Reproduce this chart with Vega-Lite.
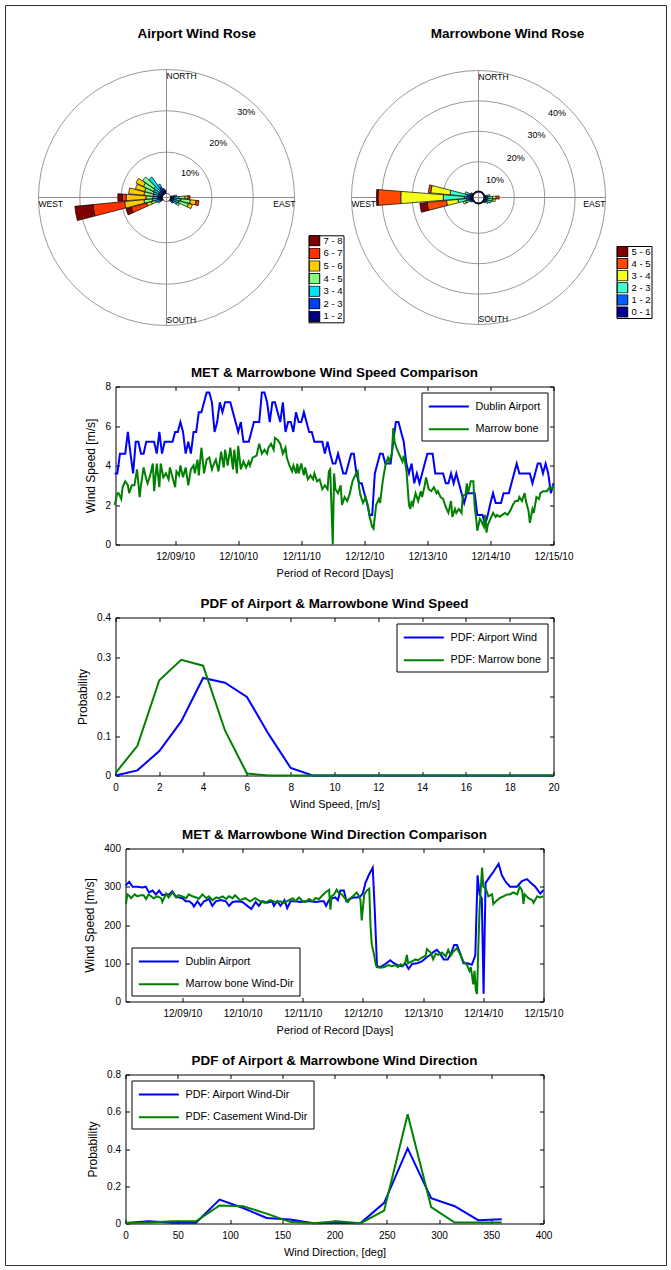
{
"$schema": "https://vega.github.io/schema/vega-lite/v6.json",
"padding": {"left": 4.5, "top": 4.5, "right": 4.5, "bottom": 4.5},
"background": "white",
"config": {
  "font": "Liberation Sans",
  "view": {"stroke": "black", "strokeWidth": 1},
  "axis": {"grid": false, "domain": false, "labelFontSize": 10, "titleFontWeight": "normal", "labelColor": "black", "titleColor": "black", "tickColor": "black", "tickSize": -4, "labelFlush": false, "labelOverlap": false},
  "axisX": {"labelPadding": 11, "titlePadding": 6, "titleFontSize": 11},
  "axisY": {"labelPadding": 9, "titlePadding": 7, "titleFontSize": 12},
  "title": {"fontSize": 13.4, "fontWeight": "bold", "color": "black", "offset": 2},
  "legend": {"title": null, "strokeColor": "black", "fillColor": "white", "padding": 6, "symbolType": "M-1,0H5", "symbolSize": 110, "symbolStrokeWidth": 2, "labelFontSize": 10.8, "rowPadding": 9.7, "labelOffset": 32, "cornerRadius": 0, "labelColor": "black", "offset": 6}
},
"datasets": {
  "spdA": [{"h":1,"v":3.6},{"h":2,"v":3.6},{"h":3,"v":4.6},{"h":4,"v":4.6},{"h":5,"v":4.6},{"h":6,"v":5.7},{"h":7,"v":4.6},{"h":8,"v":3.6},{"h":9,"v":5.2},{"h":10,"v":5.2},{"h":11,"v":4.6},{"h":12,"v":4.6},{"h":13,"v":5.2},{"h":14,"v":5.2},{"h":15,"v":5.2},{"h":16,"v":5.2},{"h":17,"v":4.6},{"h":18,"v":5.7},{"h":19,"v":4.6},{"h":20,"v":5.2},{"h":21,"v":5.2},{"h":22,"v":5.2},{"h":23,"v":5.2},{"h":24,"v":5.7},{"h":25,"v":5.7},{"h":26,"v":6.2},{"h":27,"v":5.7},{"h":28,"v":4.6},{"h":29,"v":5.2},{"h":30,"v":4.6},{"h":31,"v":5.7},{"h":32,"v":5.7},{"h":33,"v":6.7},{"h":34,"v":6.7},{"h":35,"v":7.2},{"h":36,"v":7.7},{"h":37,"v":7.7},{"h":38,"v":7.2},{"h":39,"v":5.7},{"h":40,"v":6.2},{"h":41,"v":7.2},{"h":42,"v":6.7},{"h":43,"v":7.2},{"h":44,"v":7.2},{"h":45,"v":7.2},{"h":46,"v":6.7},{"h":47,"v":6.2},{"h":48,"v":5.7},{"h":49,"v":6.2},{"h":50,"v":5.2},{"h":51,"v":5.2},{"h":52,"v":5.2},{"h":53,"v":5.7},{"h":54,"v":6.2},{"h":55,"v":6.2},{"h":56,"v":6.2},{"h":57,"v":7.7},{"h":58,"v":7.7},{"h":59,"v":7.2},{"h":60,"v":6.2},{"h":61,"v":7.2},{"h":62,"v":7.2},{"h":63,"v":6.7},{"h":64,"v":6.2},{"h":65,"v":7.2},{"h":66,"v":5.7},{"h":67,"v":6.2},{"h":68,"v":6.2},{"h":69,"v":5.7},{"h":70,"v":6.7},{"h":71,"v":6.2},{"h":72,"v":6.2},{"h":73,"v":6.7},{"h":74,"v":6.2},{"h":75,"v":5.7},{"h":76,"v":5.7},{"h":77,"v":5.2},{"h":78,"v":5.2},{"h":79,"v":5.2},{"h":80,"v":5.2},{"h":81,"v":4.6},{"h":82,"v":5.2},{"h":83,"v":4.6},{"h":84,"v":4.1},{"h":85,"v":4.1},{"h":86,"v":4.6},{"h":87,"v":4.1},{"h":88,"v":3.6},{"h":89,"v":3.6},{"h":90,"v":4.1},{"h":91,"v":4.6},{"h":92,"v":4.6},{"h":93,"v":3.6},{"h":94,"v":3.1},{"h":95,"v":3.1},{"h":96,"v":2.6},{"h":97,"v":2.1},{"h":98,"v":1.5},{"h":99,"v":1.5},{"h":100,"v":3.6},{"h":101,"v":4.1},{"h":102,"v":4.6},{"h":103,"v":4.6},{"h":104,"v":4.1},{"h":105,"v":4.1},{"h":106,"v":4.1},{"h":107,"v":5.2},{"h":108,"v":6.2},{"h":109,"v":6.2},{"h":110,"v":5.7},{"h":111,"v":5.2},{"h":112,"v":4.1},{"h":113,"v":3.6},{"h":114,"v":4.1},{"h":115,"v":3.1},{"h":116,"v":3.6},{"h":117,"v":3.1},{"h":118,"v":3.6},{"h":119,"v":4.1},{"h":120,"v":4.6},{"h":121,"v":4.6},{"h":122,"v":4.6},{"h":123,"v":3.6},{"h":124,"v":3.6},{"h":125,"v":3.6},{"h":126,"v":3.6},{"h":127,"v":3.1},{"h":128,"v":3.1},{"h":129,"v":3.6},{"h":130,"v":3.1},{"h":131,"v":3.6},{"h":132,"v":3.1},{"h":133,"v":2.6},{"h":134,"v":2.1},{"h":135,"v":2.6},{"h":136,"v":2.6},{"h":137,"v":2.6},{"h":138,"v":2.6},{"h":139,"v":1.5},{"h":140,"v":1.5},{"h":141,"v":1.5},{"h":142,"v":1.0},{"h":143,"v":1.5},{"h":144,"v":2.1},{"h":145,"v":2.6},{"h":146,"v":2.1},{"h":147,"v":2.1},{"h":148,"v":2.1},{"h":149,"v":2.6},{"h":150,"v":2.6},{"h":151,"v":2.6},{"h":152,"v":3.1},{"h":153,"v":3.6},{"h":154,"v":4.1},{"h":155,"v":3.6},{"h":156,"v":3.6},{"h":157,"v":3.6},{"h":158,"v":3.6},{"h":159,"v":3.6},{"h":160,"v":3.1},{"h":161,"v":3.6},{"h":162,"v":4.1},{"h":163,"v":4.1},{"h":164,"v":3.6},{"h":165,"v":4.1},{"h":166,"v":3.6},{"h":167,"v":2.6},{"h":168,"v":3.1}],
  "spdM": [{"h":1,"v":2.0},{"h":2,"v":2.6},{"h":2.5,"v":2.6},{"h":3.5,"v":2.3},{"h":4,"v":2.9},{"h":5,"v":3.2},{"h":6,"v":3.0},{"h":6.5,"v":2.6},{"h":7.5,"v":3.0},{"h":8.5,"v":3.0},{"h":9.5,"v":3.8},{"h":10.5,"v":2.4},{"h":11,"v":3.0},{"h":12,"v":3.9},{"h":13,"v":3.3},{"h":13.5,"v":3.1},{"h":14.5,"v":3.5},{"h":15.5,"v":4.1},{"h":16,"v":2.7},{"h":17,"v":4.1},{"h":18,"v":2.9},{"h":18.5,"v":4.1},{"h":19.5,"v":3.4},{"h":20.5,"v":3.6},{"h":21.5,"v":3.3},{"h":22,"v":3.9},{"h":23,"v":3.4},{"h":24,"v":2.9},{"h":24.5,"v":3.7},{"h":25.5,"v":3.5},{"h":26,"v":4.0},{"h":27,"v":3.4},{"h":28,"v":3.9},{"h":29,"v":3.0},{"h":30,"v":3.8},{"h":31,"v":4.0},{"h":31.5,"v":3.6},{"h":32.5,"v":4.3},{"h":33,"v":3.5},{"h":34,"v":4.9},{"h":35,"v":3.6},{"h":36,"v":4.3},{"h":37,"v":4.4},{"h":38,"v":3.8},{"h":38.5,"v":4.0},{"h":39.5,"v":4.3},{"h":40.5,"v":3.7},{"h":41.5,"v":4.7},{"h":42.5,"v":3.9},{"h":43,"v":4.8},{"h":44,"v":4.0},{"h":45,"v":4.9},{"h":46,"v":3.8},{"h":46.5,"v":4.8},{"h":47.5,"v":3.6},{"h":48,"v":5.0},{"h":49,"v":3.8},{"h":50,"v":4.2},{"h":51,"v":3.9},{"h":52,"v":4.2},{"h":52.5,"v":4.0},{"h":53.5,"v":4.4},{"h":55,"v":4.5},{"h":56,"v":5.1},{"h":57,"v":4.6},{"h":58,"v":4.8},{"h":59,"v":4.6},{"h":59.5,"v":4.9},{"h":60.5,"v":5.1},{"h":61.5,"v":4.8},{"h":62,"v":5.4},{"h":63,"v":5.3},{"h":64,"v":5.1},{"h":65,"v":4.6},{"h":66,"v":4.9},{"h":66.5,"v":4.4},{"h":67.5,"v":4.0},{"h":68.5,"v":3.7},{"h":69,"v":4.0},{"h":70,"v":3.6},{"h":70.5,"v":4.1},{"h":71,"v":3.6},{"h":72,"v":4.1},{"h":73,"v":3.5},{"h":73.5,"v":3.9},{"h":74.5,"v":3.3},{"h":75.5,"v":3.5},{"h":76.5,"v":3.3},{"h":77,"v":3.6},{"h":78,"v":3.2},{"h":79,"v":3.3},{"h":80,"v":2.8},{"h":81,"v":3.0},{"h":82,"v":2.8},{"h":82.5,"v":3.7},{"h":83,"v":3.8},{"h":84,"v":0.0},{"h":84.5,"v":3.6},{"h":85,"v":2.8},{"h":86,"v":2.6},{"h":87,"v":3.0},{"h":87.5,"v":2.0},{"h":88.5,"v":2.4},{"h":89.5,"v":2.2},{"h":90.5,"v":2.6},{"h":91.5,"v":3.2},{"h":92.5,"v":3.5},{"h":93.5,"v":3.7},{"h":94,"v":2.9},{"h":94.5,"v":2.5},{"h":95.5,"v":2.1},{"h":96.5,"v":2.4},{"h":97.5,"v":1.9},{"h":98,"v":1.4},{"h":99,"v":0.9},{"h":99.5,"v":0.8},{"h":100,"v":1.4},{"h":100.5,"v":2.0},{"h":101.5,"v":2.3},{"h":102,"v":2.1},{"h":103,"v":3.2},{"h":104,"v":4.0},{"h":105,"v":4.4},{"h":105.5,"v":4.2},{"h":106.5,"v":4.6},{"h":107,"v":5.9},{"h":107.5,"v":5.2},{"h":108.5,"v":4.8},{"h":109.5,"v":4.5},{"h":110.5,"v":4.2},{"h":111,"v":4.5},{"h":112,"v":3.8},{"h":113,"v":2.0},{"h":113.5,"v":1.8},{"h":114,"v":2.2},{"h":114.5,"v":2.0},{"h":115.5,"v":2.6},{"h":116,"v":2.4},{"h":116.5,"v":2.2},{"h":117.5,"v":2.7},{"h":118,"v":2.4},{"h":119,"v":3.0},{"h":119.5,"v":3.4},{"h":120.5,"v":2.8},{"h":121.5,"v":2.7},{"h":122.5,"v":2.9},{"h":123.5,"v":2.6},{"h":124,"v":2.7},{"h":125,"v":2.4},{"h":126,"v":2.3},{"h":127,"v":1.9},{"h":128,"v":1.6},{"h":129,"v":2.2},{"h":129.5,"v":1.4},{"h":130.5,"v":1.8},{"h":131,"v":1.6},{"h":132,"v":1.8},{"h":133,"v":1.6},{"h":133.5,"v":2.5},{"h":134.5,"v":2.5},{"h":135,"v":3.1},{"h":135.5,"v":2.6},{"h":136.5,"v":3.2},{"h":137.5,"v":3.2},{"h":138,"v":1.9},{"h":138.5,"v":1.4},{"h":139,"v":0.7},{"h":140,"v":1.3},{"h":140.5,"v":1.2},{"h":141.5,"v":0.9},{"h":142,"v":1.5},{"h":142.5,"v":0.6},{"h":143,"v":1.0},{"h":144,"v":1.3},{"h":145,"v":1.6},{"h":146,"v":1.4},{"h":146.5,"v":1.5},{"h":147.5,"v":1.4},{"h":148.5,"v":1.5},{"h":149.5,"v":1.6},{"h":150.5,"v":1.5},{"h":151.5,"v":1.7},{"h":152.5,"v":2.0},{"h":153.5,"v":2.2},{"h":154.5,"v":2.2},{"h":155,"v":2.4},{"h":156,"v":2.2},{"h":157,"v":2.6},{"h":157.5,"v":2.2},{"h":158.5,"v":1.7},{"h":159,"v":1.1},{"h":160,"v":1.8},{"h":160.5,"v":1.6},{"h":161.5,"v":2.4},{"h":162.5,"v":2.3},{"h":163,"v":2.6},{"h":164,"v":2.7},{"h":165.5,"v":2.7},{"h":166.5,"v":2.9},{"h":167.5,"v":2.8},{"h":168,"v":3.0}],
  "dirA": [{"h":1.4,"v":304},{"h":2.8,"v":313},{"h":4.1,"v":300},{"h":6.1,"v":300},{"h":8.1,"v":298},{"h":9.4,"v":300},{"h":10.7,"v":285},{"h":12.1,"v":290},{"h":13.4,"v":280},{"h":14.7,"v":290},{"h":16.0,"v":278},{"h":17.4,"v":280},{"h":18.7,"v":280},{"h":20.0,"v":288},{"h":21.3,"v":275},{"h":22.7,"v":272},{"h":24.0,"v":270},{"h":25.3,"v":262},{"h":26.7,"v":262},{"h":28.0,"v":255},{"h":28.6,"v":248},{"h":30.0,"v":262},{"h":31.3,"v":250},{"h":32.6,"v":262},{"h":34.6,"v":268},{"h":35.9,"v":250},{"h":37.3,"v":262},{"h":39.3,"v":265},{"h":41.3,"v":262},{"h":42.6,"v":250},{"h":44.0,"v":260},{"h":45.9,"v":262},{"h":47.9,"v":260},{"h":49.9,"v":250},{"h":51.5,"v":242},{"h":53.2,"v":260},{"h":54.5,"v":250},{"h":55.8,"v":262},{"h":57.8,"v":258},{"h":59.8,"v":262},{"h":60.5,"v":250},{"h":61.8,"v":262},{"h":63.1,"v":250},{"h":64.7,"v":265},{"h":65.8,"v":244},{"h":67.1,"v":262},{"h":69.1,"v":262},{"h":71.1,"v":260},{"h":73.1,"v":262},{"h":75.1,"v":262},{"h":77.1,"v":260},{"h":79.1,"v":262},{"h":80.4,"v":262},{"h":81.3,"v":250},{"h":82.4,"v":265},{"h":83.7,"v":270},{"h":85.0,"v":272},{"h":86.0,"v":265},{"h":87.0,"v":290},{"h":88.4,"v":290},{"h":89.4,"v":262},{"h":90.7,"v":268},{"h":92.1,"v":272},{"h":93.7,"v":272},{"h":95.0,"v":275},{"h":95.9,"v":282},{"h":97.0,"v":310},{"h":98.3,"v":330},{"h":99.9,"v":350},{"h":100.7,"v":240},{"h":101.6,"v":92},{"h":102.9,"v":90},{"h":104.9,"v":98},{"h":106.9,"v":108},{"h":108.3,"v":100},{"h":109.9,"v":95},{"h":111.6,"v":92},{"h":112.9,"v":100},{"h":114.2,"v":85},{"h":115.6,"v":98},{"h":117.6,"v":100},{"h":119.5,"v":105},{"h":121.3,"v":115},{"h":122.9,"v":122},{"h":124.2,"v":130},{"h":125.5,"v":135},{"h":126.8,"v":125},{"h":128.2,"v":110},{"h":129.8,"v":110},{"h":131.1,"v":125},{"h":132.4,"v":148},{"h":133.5,"v":148},{"h":134.8,"v":125},{"h":136.1,"v":100},{"h":137.7,"v":100},{"h":139.4,"v":96},{"h":140.8,"v":120},{"h":141.7,"v":330},{"h":142.5,"v":280},{"h":143.4,"v":270},{"h":144.1,"v":20},{"h":144.9,"v":310},{"h":146.5,"v":325},{"h":148.1,"v":340},{"h":150.1,"v":360},{"h":151.4,"v":330},{"h":153.0,"v":312},{"h":154.7,"v":300},{"h":157.4,"v":300},{"h":159.4,"v":315},{"h":161.4,"v":320},{"h":163.0,"v":310},{"h":164.7,"v":300},{"h":166.7,"v":282},{"h":168.0,"v":292}],
  "dirM": [{"h":1.5,"v":255},{"h":2,"v":280},{"h":3,"v":275},{"h":3.5,"v":270},{"h":5,"v":280},{"h":6,"v":275},{"h":7.5,"v":278},{"h":8.5,"v":278},{"h":9.5,"v":268},{"h":10.5,"v":280},{"h":11.5,"v":275},{"h":12.5,"v":270},{"h":14,"v":275},{"h":15.5,"v":270},{"h":16,"v":260},{"h":17.5,"v":282},{"h":18.5,"v":272},{"h":20,"v":285},{"h":21.5,"v":272},{"h":22.5,"v":278},{"h":24,"v":275},{"h":25.5,"v":270},{"h":26.5,"v":280},{"h":28,"v":275},{"h":29.5,"v":272},{"h":30.5,"v":268},{"h":32,"v":280},{"h":33.5,"v":270},{"h":34.5,"v":275},{"h":36,"v":265},{"h":37.5,"v":272},{"h":38.5,"v":270},{"h":40,"v":275},{"h":41.5,"v":268},{"h":42.5,"v":275},{"h":44,"v":270},{"h":45,"v":278},{"h":47,"v":265},{"h":49,"v":270},{"h":51,"v":262},{"h":53,"v":270},{"h":55,"v":262},{"h":57,"v":258},{"h":59,"v":265},{"h":61,"v":260},{"h":63,"v":262},{"h":64.5,"v":258},{"h":66.5,"v":265},{"h":68,"v":270},{"h":69,"v":262},{"h":70.5,"v":272},{"h":72,"v":262},{"h":73,"v":260},{"h":74.5,"v":268},{"h":76,"v":262},{"h":77,"v":270},{"h":78.5,"v":268},{"h":79.5,"v":275},{"h":81,"v":285},{"h":82.5,"v":292},{"h":83,"v":240},{"h":83.5,"v":275},{"h":84.5,"v":280},{"h":85.5,"v":292},{"h":86.5,"v":282},{"h":87.5,"v":280},{"h":89,"v":268},{"h":90,"v":260},{"h":91,"v":270},{"h":92,"v":275},{"h":93.5,"v":285},{"h":94.5,"v":275},{"h":95,"v":265},{"h":95.5,"v":212},{"h":96.5,"v":280},{"h":97.5,"v":290},{"h":98.5,"v":295},{"h":99,"v":200},{"h":99.5,"v":150},{"h":100.5,"v":120},{"h":101,"v":100},{"h":101.5,"v":90},{"h":103,"v":88},{"h":104.5,"v":90},{"h":106,"v":95},{"h":107.5,"v":92},{"h":109,"v":95},{"h":110,"v":90},{"h":111,"v":97},{"h":112,"v":93},{"h":113,"v":105},{"h":113.5,"v":122},{"h":114,"v":100},{"h":115.5,"v":105},{"h":117,"v":110},{"h":118,"v":108},{"h":119.5,"v":115},{"h":121,"v":120},{"h":121.5,"v":137},{"h":123,"v":128},{"h":124,"v":110},{"h":125,"v":125},{"h":126,"v":122},{"h":127.5,"v":128},{"h":129,"v":118},{"h":130,"v":135},{"h":131,"v":120},{"h":132,"v":130},{"h":133.5,"v":140},{"h":135,"v":120},{"h":136,"v":105},{"h":137.5,"v":95},{"h":138.5,"v":80},{"h":139,"v":90},{"h":140,"v":45},{"h":140.5,"v":80},{"h":141,"v":30},{"h":141.5,"v":20},{"h":142,"v":140},{"h":142.5,"v":240},{"h":143.5,"v":350},{"h":144,"v":300},{"h":145,"v":295},{"h":146,"v":275},{"h":147.5,"v":280},{"h":148,"v":255},{"h":149.5,"v":265},{"h":150.5,"v":270},{"h":152,"v":275},{"h":153.5,"v":280},{"h":154.5,"v":280},{"h":156,"v":285},{"h":157.5,"v":280},{"h":158.5,"v":300},{"h":159.5,"v":290},{"h":160,"v":255},{"h":160.5,"v":280},{"h":162,"v":270},{"h":163.5,"v":265},{"h":164,"v":258},{"h":165.5,"v":275},{"h":166.5,"v":272},{"h":168,"v":275}],
  "pdfSA": [{"x":0,"p":0.0},{"x":1,"p":0.013},{"x":2,"p":0.062},{"x":3,"p":0.137},{"x":4,"p":0.247},{"x":5,"p":0.235},{"x":6,"p":0.199},{"x":7,"p":0.104},{"x":8,"p":0.019},{"x":9,"p":0},{"x":10,"p":0},{"x":11,"p":0},{"x":12,"p":0},{"x":13,"p":0},{"x":14,"p":0},{"x":15,"p":0},{"x":16,"p":0},{"x":17,"p":0},{"x":18,"p":0},{"x":19,"p":0},{"x":20,"p":0}],
  "pdfSM": [{"x":0,"p":0.006},{"x":1,"p":0.075},{"x":2,"p":0.241},{"x":3,"p":0.293},{"x":4,"p":0.278},{"x":5,"p":0.114},{"x":6,"p":0.005},{"x":7,"p":0},{"x":8,"p":0},{"x":9,"p":0},{"x":10,"p":0},{"x":11,"p":0},{"x":12,"p":0},{"x":13,"p":0},{"x":14,"p":0},{"x":15,"p":0},{"x":16,"p":0},{"x":17,"p":0},{"x":18,"p":0},{"x":19,"p":0},{"x":20,"p":0}],
  "pdfDA": [{"x":0,"p":0.003},{"x":22.5,"p":0.012},{"x":45,"p":0.004},{"x":67.5,"p":0.004},{"x":90,"p":0.128},{"x":112.5,"p":0.083},{"x":135,"p":0.03},{"x":157.5,"p":0.021},{"x":180,"p":0.002},{"x":202.5,"p":0.004},{"x":225,"p":0.002},{"x":247.5,"p":0.111},{"x":270,"p":0.403},{"x":292.5,"p":0.136},{"x":315,"p":0.093},{"x":337.5,"p":0.018},{"x":360,"p":0.023}],
  "pdfDM": [{"x":0,"p":0.003},{"x":22.5,"p":0.005},{"x":45,"p":0.012},{"x":67.5,"p":0.012},{"x":90,"p":0.097},{"x":112.5,"p":0.093},{"x":135,"p":0.053},{"x":157.5,"p":0.009},{"x":180,"p":0.002},{"x":202.5,"p":0.012},{"x":225,"p":0.002},{"x":247.5,"p":0.069},{"x":270,"p":0.587},{"x":292.5,"p":0.088},{"x":315,"p":0.005},{"x":337.5,"p":0.005},{"x":360,"p":0.005}],
  "roseA": [
    {"d0":255.5,"d1":264.5,"c":"1 - 2","r0":0,"r1":0.5},{"d0":255.5,"d1":264.5,"c":"2 - 3","r0":0.5,"r1":1.2},{"d0":255.5,"d1":264.5,"c":"3 - 4","r0":1.2,"r1":2.5},{"d0":255.5,"d1":264.5,"c":"4 - 5","r0":2.5,"r1":4.5},{"d0":255.5,"d1":264.5,"c":"5 - 6","r0":4.5,"r1":9.2},{"d0":255.5,"d1":264.5,"c":"6 - 7","r0":9.2,"r1":16.9},{"d0":255.5,"d1":264.5,"c":"7 - 8","r0":16.9,"r1":21.3},
    {"d0":265.5,"d1":274.5,"c":"1 - 2","r0":0,"r1":0.5},{"d0":265.5,"d1":274.5,"c":"2 - 3","r0":0.5,"r1":1.2},{"d0":265.5,"d1":274.5,"c":"3 - 4","r0":1.2,"r1":2.3},{"d0":265.5,"d1":274.5,"c":"4 - 5","r0":2.3,"r1":4.0},{"d0":265.5,"d1":274.5,"c":"5 - 6","r0":4.0,"r1":8.8},{"d0":265.5,"d1":274.5,"c":"6 - 7","r0":8.8,"r1":9.7},{"d0":265.5,"d1":274.5,"c":"7 - 8","r0":9.7,"r1":10.8},
    {"d0":245.5,"d1":254.5,"c":"1 - 2","r0":0,"r1":0.3},{"d0":245.5,"d1":254.5,"c":"2 - 3","r0":0.3,"r1":0.8},{"d0":245.5,"d1":254.5,"c":"3 - 4","r0":0.8,"r1":1.8},{"d0":245.5,"d1":254.5,"c":"4 - 5","r0":1.8,"r1":2.8},{"d0":245.5,"d1":254.5,"c":"5 - 6","r0":2.8,"r1":4.0},{"d0":245.5,"d1":254.5,"c":"6 - 7","r0":4.0,"r1":7.9},{"d0":245.5,"d1":254.5,"c":"7 - 8","r0":7.9,"r1":9.2},
    {"d0":275.5,"d1":284.5,"c":"1 - 2","r0":0,"r1":0.4},{"d0":275.5,"d1":284.5,"c":"2 - 3","r0":0.4,"r1":1.0},{"d0":275.5,"d1":284.5,"c":"3 - 4","r0":1.0,"r1":2.2},{"d0":275.5,"d1":284.5,"c":"4 - 5","r0":2.2,"r1":4.5},{"d0":275.5,"d1":284.5,"c":"5 - 6","r0":4.5,"r1":8.2},
    {"d0":285.5,"d1":294.5,"c":"1 - 2","r0":0,"r1":0.4},{"d0":285.5,"d1":294.5,"c":"2 - 3","r0":0.4,"r1":1.0},{"d0":285.5,"d1":294.5,"c":"3 - 4","r0":1.0,"r1":2.3},{"d0":285.5,"d1":294.5,"c":"4 - 5","r0":2.3,"r1":4.5},{"d0":285.5,"d1":294.5,"c":"5 - 6","r0":4.5,"r1":6.8},
    {"d0":295.5,"d1":304.5,"c":"1 - 2","r0":0,"r1":0.4},{"d0":295.5,"d1":304.5,"c":"2 - 3","r0":0.4,"r1":1.0},{"d0":295.5,"d1":304.5,"c":"3 - 4","r0":1.0,"r1":2.5},{"d0":295.5,"d1":304.5,"c":"4 - 5","r0":2.5,"r1":5.2},{"d0":295.5,"d1":304.5,"c":"5 - 6","r0":5.2,"r1":7.2},
    {"d0":305.5,"d1":314.5,"c":"1 - 2","r0":0,"r1":0.4},{"d0":305.5,"d1":314.5,"c":"2 - 3","r0":0.4,"r1":1.1},{"d0":305.5,"d1":314.5,"c":"3 - 4","r0":1.1,"r1":2.8},{"d0":305.5,"d1":314.5,"c":"4 - 5","r0":2.8,"r1":6.1},
    {"d0":315.5,"d1":324.5,"c":"1 - 2","r0":0,"r1":0.4},{"d0":315.5,"d1":324.5,"c":"2 - 3","r0":0.4,"r1":1.4},{"d0":315.5,"d1":324.5,"c":"3 - 4","r0":1.4,"r1":5.1},
    {"d0":325.5,"d1":334.5,"c":"1 - 2","r0":0,"r1":0.5},{"d0":325.5,"d1":334.5,"c":"2 - 3","r0":0.5,"r1":1.8},{"d0":325.5,"d1":334.5,"c":"3 - 4","r0":1.8,"r1":2.6},
    {"d0":335.5,"d1":344.5,"c":"1 - 2","r0":0,"r1":0.6},{"d0":335.5,"d1":344.5,"c":"2 - 3","r0":0.6,"r1":1.3},
    {"d0":345.5,"d1":354.5,"c":"1 - 2","r0":0,"r1":0.8},
    {"d0":235.5,"d1":244.5,"c":"1 - 2","r0":0,"r1":0.3},{"d0":235.5,"d1":244.5,"c":"2 - 3","r0":0.3,"r1":0.8},{"d0":235.5,"d1":244.5,"c":"3 - 4","r0":0.8,"r1":1.4},
    {"d0":75.5,"d1":84.5,"c":"1 - 2","r0":0,"r1":0.3},{"d0":75.5,"d1":84.5,"c":"2 - 3","r0":0.3,"r1":0.8},{"d0":75.5,"d1":84.5,"c":"3 - 4","r0":0.8,"r1":1.5},
    {"d0":85.5,"d1":94.5,"c":"1 - 2","r0":0,"r1":0.3},{"d0":85.5,"d1":94.5,"c":"2 - 3","r0":0.3,"r1":0.8},{"d0":85.5,"d1":94.5,"c":"3 - 4","r0":0.8,"r1":2.0},{"d0":85.5,"d1":94.5,"c":"4 - 5","r0":2.0,"r1":3.5},{"d0":85.5,"d1":94.5,"c":"5 - 6","r0":3.5,"r1":4.2},{"d0":85.5,"d1":94.5,"c":"6 - 7","r0":4.2,"r1":4.7},
    {"d0":95.5,"d1":104.5,"c":"1 - 2","r0":0,"r1":0.3},{"d0":95.5,"d1":104.5,"c":"2 - 3","r0":0.3,"r1":0.8},{"d0":95.5,"d1":104.5,"c":"3 - 4","r0":0.8,"r1":2.5},{"d0":95.5,"d1":104.5,"c":"4 - 5","r0":2.5,"r1":4.8},{"d0":95.5,"d1":104.5,"c":"5 - 6","r0":4.8,"r1":6.2},{"d0":95.5,"d1":104.5,"c":"6 - 7","r0":6.2,"r1":6.9},
    {"d0":105.5,"d1":114.5,"c":"1 - 2","r0":0,"r1":0.3},{"d0":105.5,"d1":114.5,"c":"2 - 3","r0":0.3,"r1":0.8},{"d0":105.5,"d1":114.5,"c":"3 - 4","r0":0.8,"r1":2.2},{"d0":105.5,"d1":114.5,"c":"4 - 5","r0":2.2,"r1":4.5},{"d0":105.5,"d1":114.5,"c":"5 - 6","r0":4.5,"r1":5.5},
    {"d0":115.5,"d1":124.5,"c":"1 - 2","r0":0,"r1":0.3},{"d0":115.5,"d1":124.5,"c":"2 - 3","r0":0.3,"r1":0.8},{"d0":115.5,"d1":124.5,"c":"3 - 4","r0":0.8,"r1":1.8},{"d0":115.5,"d1":124.5,"c":"4 - 5","r0":1.8,"r1":2.5},
    {"d0":125.5,"d1":134.5,"c":"1 - 2","r0":0,"r1":0.3},{"d0":125.5,"d1":134.5,"c":"2 - 3","r0":0.3,"r1":1.0}
  ],
  "roseM": [
    {"d0":265.5,"d1":274.5,"c":"0 - 1","r0":0,"r1":0.8},{"d0":265.5,"d1":274.5,"c":"1 - 2","r0":0.8,"r1":2.9},{"d0":265.5,"d1":274.5,"c":"2 - 3","r0":2.9,"r1":9.8},{"d0":265.5,"d1":274.5,"c":"3 - 4","r0":9.8,"r1":23.8},{"d0":265.5,"d1":274.5,"c":"4 - 5","r0":23.8,"r1":31.3},{"d0":265.5,"d1":274.5,"c":"5 - 6","r0":31.3,"r1":31.8},
    {"d0":275.5,"d1":284.5,"c":"0 - 1","r0":0,"r1":0.8},{"d0":275.5,"d1":284.5,"c":"1 - 2","r0":0.8,"r1":2.0},{"d0":275.5,"d1":284.5,"c":"2 - 3","r0":2.0,"r1":7.6},{"d0":275.5,"d1":284.5,"c":"3 - 4","r0":7.6,"r1":14.0},{"d0":275.5,"d1":284.5,"c":"4 - 5","r0":14.0,"r1":14.8},
    {"d0":255.5,"d1":264.5,"c":"0 - 1","r0":0,"r1":0.8},{"d0":255.5,"d1":264.5,"c":"1 - 2","r0":0.8,"r1":2.2},{"d0":255.5,"d1":264.5,"c":"2 - 3","r0":2.2,"r1":5.0},{"d0":255.5,"d1":264.5,"c":"3 - 4","r0":5.0,"r1":8.8},{"d0":255.5,"d1":264.5,"c":"4 - 5","r0":8.8,"r1":15.2},{"d0":255.5,"d1":264.5,"c":"5 - 6","r0":15.2,"r1":17.6},
    {"d0":285.5,"d1":294.5,"c":"0 - 1","r0":0,"r1":0.6},{"d0":285.5,"d1":294.5,"c":"1 - 2","r0":0.6,"r1":1.4},{"d0":285.5,"d1":294.5,"c":"2 - 3","r0":1.4,"r1":2.8},
    {"d0":245.5,"d1":254.5,"c":"0 - 1","r0":0,"r1":0.6},{"d0":245.5,"d1":254.5,"c":"1 - 2","r0":0.6,"r1":1.3},{"d0":245.5,"d1":254.5,"c":"2 - 3","r0":1.3,"r1":2.6},{"d0":245.5,"d1":254.5,"c":"3 - 4","r0":2.6,"r1":3.4},
    {"d0":295.5,"d1":304.5,"c":"0 - 1","r0":0,"r1":0.5},{"d0":295.5,"d1":304.5,"c":"1 - 2","r0":0.5,"r1":1.0},
    {"d0":235.5,"d1":244.5,"c":"0 - 1","r0":0,"r1":0.5},{"d0":235.5,"d1":244.5,"c":"1 - 2","r0":0.5,"r1":0.9},
    {"d0":75.5,"d1":84.5,"c":"0 - 1","r0":0,"r1":0.4},{"d0":75.5,"d1":84.5,"c":"1 - 2","r0":0.4,"r1":1.0},{"d0":75.5,"d1":84.5,"c":"2 - 3","r0":1.0,"r1":2.0},
    {"d0":85.5,"d1":94.5,"c":"0 - 1","r0":0,"r1":0.5},{"d0":85.5,"d1":94.5,"c":"1 - 2","r0":0.5,"r1":1.2},{"d0":85.5,"d1":94.5,"c":"2 - 3","r0":1.2,"r1":2.8},{"d0":85.5,"d1":94.5,"c":"3 - 4","r0":2.8,"r1":4.0},{"d0":85.5,"d1":94.5,"c":"4 - 5","r0":4.0,"r1":5.0},
    {"d0":95.5,"d1":104.5,"c":"0 - 1","r0":0,"r1":0.5},{"d0":95.5,"d1":104.5,"c":"1 - 2","r0":0.5,"r1":1.2},{"d0":95.5,"d1":104.5,"c":"2 - 3","r0":1.2,"r1":3.0},{"d0":95.5,"d1":104.5,"c":"3 - 4","r0":3.0,"r1":3.8},
    {"d0":105.5,"d1":114.5,"c":"0 - 1","r0":0,"r1":0.5},{"d0":105.5,"d1":114.5,"c":"1 - 2","r0":0.5,"r1":1.2},{"d0":105.5,"d1":114.5,"c":"2 - 3","r0":1.2,"r1":2.6},
    {"d0":115.5,"d1":124.5,"c":"0 - 1","r0":0,"r1":0.4},{"d0":115.5,"d1":124.5,"c":"1 - 2","r0":0.4,"r1":1.0},{"d0":115.5,"d1":124.5,"c":"2 - 3","r0":1.0,"r1":1.8},
    {"d0":125.5,"d1":134.5,"c":"0 - 1","r0":0,"r1":0.4},{"d0":125.5,"d1":134.5,"c":"1 - 2","r0":0.4,"r1":0.8},
    {"d0":-4.5,"d1":4.5,"c":"0 - 1","r0":0,"r1":0.35},{"d0":5.5,"d1":14.5,"c":"0 - 1","r0":0,"r1":0.35},{"d0":15.5,"d1":24.5,"c":"0 - 1","r0":0,"r1":0.35},{"d0":25.5,"d1":34.5,"c":"0 - 1","r0":0,"r1":0.35},{"d0":35.5,"d1":44.5,"c":"0 - 1","r0":0,"r1":0.35},{"d0":45.5,"d1":54.5,"c":"0 - 1","r0":0,"r1":0.35},{"d0":55.5,"d1":64.5,"c":"0 - 1","r0":0,"r1":0.35},{"d0":65.5,"d1":74.5,"c":"0 - 1","r0":0,"r1":0.35},{"d0":135.5,"d1":144.5,"c":"0 - 1","r0":0,"r1":0.35},{"d0":145.5,"d1":154.5,"c":"0 - 1","r0":0,"r1":0.35},{"d0":155.5,"d1":164.5,"c":"0 - 1","r0":0,"r1":0.35},{"d0":165.5,"d1":174.5,"c":"0 - 1","r0":0,"r1":0.35},{"d0":175.5,"d1":184.5,"c":"0 - 1","r0":0,"r1":0.35},{"d0":185.5,"d1":194.5,"c":"0 - 1","r0":0,"r1":0.35},{"d0":195.5,"d1":204.5,"c":"0 - 1","r0":0,"r1":0.35},{"d0":205.5,"d1":214.5,"c":"0 - 1","r0":0,"r1":0.35},{"d0":215.5,"d1":224.5,"c":"0 - 1","r0":0,"r1":0.35},{"d0":225.5,"d1":234.5,"c":"0 - 1","r0":0,"r1":0.35},{"d0":305.5,"d1":314.5,"c":"0 - 1","r0":0,"r1":0.35},{"d0":315.5,"d1":324.5,"c":"0 - 1","r0":0,"r1":0.35},{"d0":325.5,"d1":334.5,"c":"0 - 1","r0":0,"r1":0.35},{"d0":335.5,"d1":344.5,"c":"0 - 1","r0":0,"r1":0.35},{"d0":345.5,"d1":354.5,"c":"0 - 1","r0":0,"r1":0.35}
  ],
  "ringsA": [{"ring":10,"lab":"10%"},{"ring":20,"lab":"20%"},{"ring":30,"lab":"30%"}],
  "ringsM": [{"ring":10,"lab":"10%"},{"ring":20,"lab":"20%"},{"ring":30,"lab":"30%"},{"ring":40,"lab":"40%"}],
  "one": [{}]
},
"resolve": {"scale": {"color": "independent"}, "legend": {"color": "independent"}},
"vconcat": [
  {
    "width": 592, "height": 244,
    "view": {"stroke": null},
    "resolve": {"scale": {"radius": "independent", "color": "independent"}, "legend": {"color": "independent"}},
    "layer": [
      {"data": {"name": "one"}, "mark": {"type": "rect", "fill": null, "stroke": "#303030", "strokeWidth": 1},
       "encoding": {
         "x": {"datum": -1.2578, "type": "quantitative", "scale": {"domain": [-1, 3.625], "nice": false, "zero": false}, "axis": null},
         "x2": {"datum": 3.9063},
         "y": {"datum": 1.5, "type": "quantitative", "scale": {"domain": [-0.90625, 1], "nice": false, "zero": false}, "axis": null},
         "y2": {"datum": -8.3438}}},
      {"data": {"name": "one"}, "mark": {"type": "text", "fontSize": 13.5, "fontWeight": "bold", "align": "center", "baseline": "middle"},
       "encoding": {
         "x": {"datum": 0.2367, "type": "quantitative", "scale": {"domain": [-1, 3.625], "nice": false, "zero": false}, "axis": null},
         "y": {"datum": 1.281, "type": "quantitative", "scale": {"domain": [-0.90625, 1], "nice": false, "zero": false}, "axis": null},
         "text": {"value": "Airport Wind Rose"}}},
      {"data": {"name": "one"}, "mark": {"type": "text", "fontSize": 13.5, "fontWeight": "bold", "align": "center", "baseline": "middle"},
       "encoding": {
         "x": {"datum": 2.664, "type": "quantitative", "scale": {"domain": [-1, 3.625], "nice": false, "zero": false}, "axis": null},
         "y": {"datum": 1.281, "type": "quantitative", "scale": {"domain": [-0.90625, 1], "nice": false, "zero": false}, "axis": null},
         "text": {"value": "Marrowbone Wind Rose"}}},
      {
        "layer": [
          {"data": {"name": "ringsA"}, "mark": {"type": "arc", "filled": false, "stroke": "#808080", "strokeWidth": 0.8},
           "encoding": {
             "x": {"datum": 0, "type": "quantitative", "scale": {"domain": [-1, 3.625], "nice": false, "zero": false}, "axis": null},
             "y": {"datum": 0, "type": "quantitative", "scale": {"domain": [-0.90625, 1], "nice": false, "zero": false}, "axis": null},
             "theta": {"datum": 0, "type": "quantitative", "scale": {"domain": [0, 360], "range": [0, 6.283185307179586]}, "stack": null},
             "theta2": {"datum": 360},
             "radius": {"field": "ring", "type": "quantitative", "stack": null, "scale": {"type": "linear", "domain": [-1, 30], "range": [0, 128], "zero": false, "nice": false}}}},
          {"data": {"name": "one"}, "mark": {"type": "rule", "stroke": "#8c8c8c", "strokeWidth": 1},
           "encoding": {
             "x": {"datum": -1, "type": "quantitative", "scale": {"domain": [-1, 3.625], "nice": false, "zero": false}, "axis": null},
             "x2": {"datum": 1},
             "y": {"datum": 0, "type": "quantitative", "scale": {"domain": [-0.90625, 1], "nice": false, "zero": false}, "axis": null}}},
          {"data": {"name": "one"}, "mark": {"type": "rule", "stroke": "#8c8c8c", "strokeWidth": 1},
           "encoding": {
             "x": {"datum": 0, "type": "quantitative", "scale": {"domain": [-1, 3.625], "nice": false, "zero": false}, "axis": null},
             "y": {"datum": -1, "type": "quantitative", "scale": {"domain": [-0.90625, 1], "nice": false, "zero": false}, "axis": null},
             "y2": {"datum": 1}}},
          {"data": {"name": "roseA"}, "mark": {"type": "arc", "stroke": "black", "strokeWidth": 0.7},
           "encoding": {
             "x": {"datum": 0, "type": "quantitative", "scale": {"domain": [-1, 3.625], "nice": false, "zero": false}, "axis": null},
             "y": {"datum": 0, "type": "quantitative", "scale": {"domain": [-0.90625, 1], "nice": false, "zero": false}, "axis": null},
             "theta": {"field": "d0", "type": "quantitative", "scale": {"domain": [0, 360], "range": [0, 6.283185307179586]}, "stack": null},
             "theta2": {"field": "d1"},
             "radius": {"field": "r1", "type": "quantitative", "stack": null, "scale": {"type": "linear", "domain": [-1, 30], "range": [0, 128], "zero": false, "nice": false}},
             "radius2": {"field": "r0"},
             "color": {"field": "c", "type": "nominal",
               "scale": {"domain": ["7 - 8","6 - 7","5 - 6","4 - 5","3 - 4","2 - 3","1 - 2"], "range": ["#800000","#ff3300","#ffcc00","#80ff80","#00e0ff","#0040ff","#000080"]},
               "legend": {"orient": "none", "legendX": 270, "legendY": 165.8, "title": null, "symbolType": "square", "symbolSize": 110, "symbolStrokeColor": "black", "symbolStrokeWidth": 1, "labelFontSize": 9.5, "clipHeight": 11, "rowPadding": 1.6, "labelOffset": 3, "padding": 0, "strokeColor": null, "fillColor": null}}}},
          {"data": {"name": "ringsA"}, "mark": {"type": "text", "fontSize": 9, "dx": -7.5, "dy": 8.5, "align": "center", "baseline": "middle"},
           "encoding": {
             "x": {"datum": 0, "type": "quantitative", "scale": {"domain": [-1, 3.625], "nice": false, "zero": false}, "axis": null},
             "y": {"datum": 0, "type": "quantitative", "scale": {"domain": [-0.90625, 1], "nice": false, "zero": false}, "axis": null},
             "theta": {"datum": 43, "type": "quantitative", "scale": {"domain": [0, 360], "range": [0, 6.283185307179586]}, "stack": null},
             "radius": {"field": "ring", "type": "quantitative", "stack": null, "scale": {"type": "linear", "domain": [-1, 30], "range": [0, 128], "zero": false, "nice": false}},
             "text": {"field": "lab"}}},
          {"data": {"name": "one"}, "mark": {"type": "text", "fontSize": 8.5, "align": "left", "baseline": "top", "dy": 2},
           "encoding": {
             "x": {"datum": 0, "type": "quantitative", "scale": {"domain": [-1, 3.625], "nice": false, "zero": false}, "axis": null},
             "y": {"datum": 0, "type": "quantitative", "scale": {"domain": [-0.90625, 1], "nice": false, "zero": false}, "axis": null},
             "theta": {"datum": 0, "type": "quantitative", "scale": {"domain": [0, 360], "range": [0, 6.283185307179586]}, "stack": null},
             "radius": {"datum": 30, "type": "quantitative", "stack": null, "scale": {"type": "linear", "domain": [-1, 30], "range": [0, 128], "zero": false, "nice": false}},
             "text": {"value": "NORTH"}}},
          {"data": {"name": "one"}, "mark": {"type": "text", "fontSize": 8.5, "align": "left", "baseline": "bottom", "dy": -1},
           "encoding": {
             "x": {"datum": 0, "type": "quantitative", "scale": {"domain": [-1, 3.625], "nice": false, "zero": false}, "axis": null},
             "y": {"datum": 0, "type": "quantitative", "scale": {"domain": [-0.90625, 1], "nice": false, "zero": false}, "axis": null},
             "theta": {"datum": 180, "type": "quantitative", "scale": {"domain": [0, 360], "range": [0, 6.283185307179586]}, "stack": null},
             "radius": {"datum": 30, "type": "quantitative", "stack": null, "scale": {"type": "linear", "domain": [-1, 30], "range": [0, 128], "zero": false, "nice": false}},
             "text": {"value": "SOUTH"}}},
          {"data": {"name": "one"}, "mark": {"type": "text", "fontSize": 8.5, "align": "left", "baseline": "top", "dy": 2},
           "encoding": {
             "x": {"datum": 0, "type": "quantitative", "scale": {"domain": [-1, 3.625], "nice": false, "zero": false}, "axis": null},
             "y": {"datum": 0, "type": "quantitative", "scale": {"domain": [-0.90625, 1], "nice": false, "zero": false}, "axis": null},
             "theta": {"datum": 270, "type": "quantitative", "scale": {"domain": [0, 360], "range": [0, 6.283185307179586]}, "stack": null},
             "radius": {"datum": 30, "type": "quantitative", "stack": null, "scale": {"type": "linear", "domain": [-1, 30], "range": [0, 128], "zero": false, "nice": false}},
             "text": {"value": "WEST"}}},
          {"data": {"name": "one"}, "mark": {"type": "text", "fontSize": 8.5, "align": "right", "baseline": "top", "dy": 2, "dx": 1},
           "encoding": {
             "x": {"datum": 0, "type": "quantitative", "scale": {"domain": [-1, 3.625], "nice": false, "zero": false}, "axis": null},
             "y": {"datum": 0, "type": "quantitative", "scale": {"domain": [-0.90625, 1], "nice": false, "zero": false}, "axis": null},
             "theta": {"datum": 90, "type": "quantitative", "scale": {"domain": [0, 360], "range": [0, 6.283185307179586]}, "stack": null},
             "radius": {"datum": 30, "type": "quantitative", "stack": null, "scale": {"type": "linear", "domain": [-1, 30], "range": [0, 128], "zero": false, "nice": false}},
             "text": {"value": "EAST"}}}
        ]
      },
      {
        "layer": [
          {"data": {"name": "ringsM"}, "mark": {"type": "arc", "filled": false, "stroke": "#808080", "strokeWidth": 0.8},
           "encoding": {
             "x": {"datum": 2.4375, "type": "quantitative", "scale": {"domain": [-1, 3.625], "nice": false, "zero": false}, "axis": null},
             "y": {"datum": 0, "type": "quantitative", "scale": {"domain": [-0.90625, 1], "nice": false, "zero": false}, "axis": null},
             "theta": {"datum": 0, "type": "quantitative", "scale": {"domain": [0, 360], "range": [0, 6.283185307179586]}, "stack": null},
             "theta2": {"datum": 360},
             "radius": {"field": "ring", "type": "quantitative", "stack": null, "scale": {"type": "linear", "domain": [-1.8, 40], "range": [0, 127], "zero": false, "nice": false}}}},
          {"data": {"name": "one"}, "mark": {"type": "rule", "stroke": "#8c8c8c", "strokeWidth": 1},
           "encoding": {
             "x": {"datum": 1.4453, "type": "quantitative", "scale": {"domain": [-1, 3.625], "nice": false, "zero": false}, "axis": null},
             "x2": {"datum": 3.4297},
             "y": {"datum": 0, "type": "quantitative", "scale": {"domain": [-0.90625, 1], "nice": false, "zero": false}, "axis": null}}},
          {"data": {"name": "one"}, "mark": {"type": "rule", "stroke": "#8c8c8c", "strokeWidth": 1},
           "encoding": {
             "x": {"datum": 2.4375, "type": "quantitative", "scale": {"domain": [-1, 3.625], "nice": false, "zero": false}, "axis": null},
             "y": {"datum": -0.9922, "type": "quantitative", "scale": {"domain": [-0.90625, 1], "nice": false, "zero": false}, "axis": null},
             "y2": {"datum": 0.9922}}},
          {"data": {"name": "roseM"}, "mark": {"type": "arc", "stroke": "black", "strokeWidth": 0.7},
           "encoding": {
             "x": {"datum": 2.4375, "type": "quantitative", "scale": {"domain": [-1, 3.625], "nice": false, "zero": false}, "axis": null},
             "y": {"datum": 0, "type": "quantitative", "scale": {"domain": [-0.90625, 1], "nice": false, "zero": false}, "axis": null},
             "theta": {"field": "d0", "type": "quantitative", "scale": {"domain": [0, 360], "range": [0, 6.283185307179586]}, "stack": null},
             "theta2": {"field": "d1"},
             "radius": {"field": "r1", "type": "quantitative", "stack": null, "scale": {"type": "linear", "domain": [-1.8, 40], "range": [0, 127], "zero": false, "nice": false}},
             "radius2": {"field": "r0"},
             "color": {"field": "c", "type": "nominal",
               "scale": {"domain": ["5 - 6","4 - 5","3 - 4","2 - 3","1 - 2","0 - 1"], "range": ["#800000","#ff4a00","#f4ff1a","#40ffd0","#0060ff","#000090"]},
               "legend": {"orient": "none", "legendX": 578, "legendY": 176.5, "title": null, "symbolType": "square", "symbolSize": 110, "symbolStrokeColor": "black", "symbolStrokeWidth": 1, "labelFontSize": 9.5, "clipHeight": 11, "rowPadding": 1.1, "labelOffset": 3, "padding": 0, "strokeColor": null, "fillColor": null}}}},
          {"data": {"name": "ringsM"}, "mark": {"type": "text", "fontSize": 9, "dx": -8, "dy": 8.5, "align": "center", "baseline": "middle"},
           "encoding": {
             "x": {"datum": 2.4375, "type": "quantitative", "scale": {"domain": [-1, 3.625], "nice": false, "zero": false}, "axis": null},
             "y": {"datum": 0, "type": "quantitative", "scale": {"domain": [-0.90625, 1], "nice": false, "zero": false}, "axis": null},
             "theta": {"datum": 43, "type": "quantitative", "scale": {"domain": [0, 360], "range": [0, 6.283185307179586]}, "stack": null},
             "radius": {"field": "ring", "type": "quantitative", "stack": null, "scale": {"type": "linear", "domain": [-1.8, 40], "range": [0, 127], "zero": false, "nice": false}},
             "text": {"field": "lab"}}},
          {"data": {"name": "one"}, "mark": {"type": "text", "fontSize": 8.5, "align": "left", "baseline": "top", "dy": 2},
           "encoding": {
             "x": {"datum": 2.4375, "type": "quantitative", "scale": {"domain": [-1, 3.625], "nice": false, "zero": false}, "axis": null},
             "y": {"datum": 0, "type": "quantitative", "scale": {"domain": [-0.90625, 1], "nice": false, "zero": false}, "axis": null},
             "theta": {"datum": 0, "type": "quantitative", "scale": {"domain": [0, 360], "range": [0, 6.283185307179586]}, "stack": null},
             "radius": {"datum": 40, "type": "quantitative", "stack": null, "scale": {"type": "linear", "domain": [-1.8, 40], "range": [0, 127], "zero": false, "nice": false}},
             "text": {"value": "NORTH"}}},
          {"data": {"name": "one"}, "mark": {"type": "text", "fontSize": 8.5, "align": "left", "baseline": "bottom", "dy": -1},
           "encoding": {
             "x": {"datum": 2.4375, "type": "quantitative", "scale": {"domain": [-1, 3.625], "nice": false, "zero": false}, "axis": null},
             "y": {"datum": 0, "type": "quantitative", "scale": {"domain": [-0.90625, 1], "nice": false, "zero": false}, "axis": null},
             "theta": {"datum": 180, "type": "quantitative", "scale": {"domain": [0, 360], "range": [0, 6.283185307179586]}, "stack": null},
             "radius": {"datum": 40, "type": "quantitative", "stack": null, "scale": {"type": "linear", "domain": [-1.8, 40], "range": [0, 127], "zero": false, "nice": false}},
             "text": {"value": "SOUTH"}}},
          {"data": {"name": "one"}, "mark": {"type": "text", "fontSize": 8.5, "align": "left", "baseline": "top", "dy": 2},
           "encoding": {
             "x": {"datum": 2.4375, "type": "quantitative", "scale": {"domain": [-1, 3.625], "nice": false, "zero": false}, "axis": null},
             "y": {"datum": 0, "type": "quantitative", "scale": {"domain": [-0.90625, 1], "nice": false, "zero": false}, "axis": null},
             "theta": {"datum": 270, "type": "quantitative", "scale": {"domain": [0, 360], "range": [0, 6.283185307179586]}, "stack": null},
             "radius": {"datum": 40, "type": "quantitative", "stack": null, "scale": {"type": "linear", "domain": [-1.8, 40], "range": [0, 127], "zero": false, "nice": false}},
             "text": {"value": "WEST"}}},
          {"data": {"name": "one"}, "mark": {"type": "text", "fontSize": 8.5, "align": "right", "baseline": "top", "dy": 2},
           "encoding": {
             "x": {"datum": 2.4375, "type": "quantitative", "scale": {"domain": [-1, 3.625], "nice": false, "zero": false}, "axis": null},
             "y": {"datum": 0, "type": "quantitative", "scale": {"domain": [-0.90625, 1], "nice": false, "zero": false}, "axis": null},
             "theta": {"datum": 90, "type": "quantitative", "scale": {"domain": [0, 360], "range": [0, 6.283185307179586]}, "stack": null},
             "radius": {"datum": 40, "type": "quantitative", "stack": null, "scale": {"type": "linear", "domain": [-1.8, 40], "range": [0, 127], "zero": false, "nice": false}},
             "text": {"value": "EAST"}}}
        ]
      }
    ]
  },
  {
    "width": 438, "height": 158,
    "title": {"text": "MET & Marrowbone Wind Speed Comparison"},
    "resolve": {"axis": {"x": "independent", "y": "independent"}},
    "layer": [
      {"data": {"name": "spdA"}, "mark": {"type": "line", "strokeWidth": 2},
       "encoding": {
         "x": {"field": "h", "type": "quantitative", "scale": {"domain": [1.3, 168], "nice": false, "zero": false}, "axis": {"title": "Period of Record [Days]", "values": [24,48,72,96,120,144,168], "labelOverlap": false, "labelExpr": "'12/' + (datum.value < 48 ? '0' : '') + (8 + datum.value / 24) + '/10'"}},
         "y": {"field": "v", "type": "quantitative", "scale": {"domain": [0, 8], "nice": false}, "axis": {"title": "Wind Speed [m/s]", "values": [0,2,4,6,8], "labelOverlap": false, "tickCount": 5}},
         "color": {"datum": "Dublin Airport", "type": "nominal", "scale": {"domain": ["Dublin Airport", "Marrow bone"], "range": ["#0000ff", "#008000"]}, "legend": {"orient": "top-right", "symbolSize": 178}}}},
      {"data": {"name": "spdM"}, "mark": {"type": "line", "strokeWidth": 2},
       "encoding": {
         "x": {"field": "h", "type": "quantitative", "axis": {"orient": "top", "labels": false, "title": null, "values": [24,48,72,96,120,144,168]}},
         "y": {"field": "v", "type": "quantitative", "axis": {"orient": "right", "labels": false, "title": null, "values": [0,2,4,6,8]}},
         "color": {"datum": "Marrow bone", "type": "nominal"}}}
    ]
  },
  {
    "width": 438, "height": 158,
    "title": {"text": "PDF of Airport & Marrowbone Wind Speed"},
    "resolve": {"axis": {"x": "independent", "y": "independent"}},
    "layer": [
      {"data": {"name": "pdfSA"}, "mark": {"type": "line", "strokeWidth": 2},
       "encoding": {
         "x": {"field": "x", "type": "quantitative", "scale": {"domain": [0, 20], "nice": false}, "axis": {"title": "Wind Speed, [m/s]", "values": [0,2,4,6,8,10,12,14,16,18,20], "labelOverlap": false}},
         "y": {"field": "p", "type": "quantitative", "scale": {"domain": [0, 0.4], "nice": false}, "axis": {"title": "Probability", "values": [0,0.1,0.2,0.3,0.4], "format": "~g", "labelOverlap": false, "tickCount": 5}},
         "color": {"datum": "PDF: Airport Wind", "type": "nominal", "scale": {"domain": ["PDF: Airport Wind", "PDF: Marrow bone"], "range": ["#0000ff", "#008000"]}, "legend": {"orient": "top-right", "symbolSize": 178}}}},
      {"data": {"name": "pdfSM"}, "mark": {"type": "line", "strokeWidth": 2},
       "encoding": {
         "x": {"field": "x", "type": "quantitative", "axis": {"orient": "top", "labels": false, "title": null, "values": [0,2,4,6,8,10,12,14,16,18,20]}},
         "y": {"field": "p", "type": "quantitative", "axis": {"orient": "right", "labels": false, "title": null, "values": [0,0.1,0.2,0.3,0.4]}},
         "color": {"datum": "PDF: Marrow bone", "type": "nominal"}}}
    ]
  },
  {
    "width": 418, "height": 153,
    "title": {"text": "MET & Marrowbone Wind Direction Comparison"},
    "resolve": {"axis": {"x": "independent", "y": "independent"}},
    "layer": [
      {"data": {"name": "dirA"}, "mark": {"type": "line", "strokeWidth": 2},
       "encoding": {
         "x": {"field": "h", "type": "quantitative", "scale": {"domain": [1.3, 168], "nice": false, "zero": false}, "axis": {"title": "Period of Record [Days]", "values": [24,48,72,96,120,144,168], "labelOverlap": false, "labelExpr": "'12/' + (datum.value < 48 ? '0' : '') + (8 + datum.value / 24) + '/10'"}},
         "y": {"field": "v", "type": "quantitative", "scale": {"domain": [0, 400], "nice": false}, "axis": {"title": "Wind Speed [m/s]", "values": [0,100,200,300,400], "labelOverlap": false, "tickCount": 5}},
         "color": {"datum": "Dublin Airport", "type": "nominal", "scale": {"domain": ["Dublin Airport", "Marrow bone Wind-Dir"], "range": ["#0000ff", "#008000"]}, "legend": {"orient": "bottom-left", "symbolSize": 178}}}},
      {"data": {"name": "dirM"}, "mark": {"type": "line", "strokeWidth": 2},
       "encoding": {
         "x": {"field": "h", "type": "quantitative", "axis": {"orient": "top", "labels": false, "title": null, "values": [24,48,72,96,120,144,168]}},
         "y": {"field": "v", "type": "quantitative", "axis": {"orient": "right", "labels": false, "title": null, "values": [0,100,200,300,400]}},
         "color": {"datum": "Marrow bone Wind-Dir", "type": "nominal"}}}
    ]
  },
  {
    "width": 418, "height": 149,
    "title": {"text": "PDF of Airport & Marrowbone Wind Direction"},
    "resolve": {"axis": {"x": "independent", "y": "independent"}},
    "layer": [
      {"data": {"name": "pdfDA"}, "mark": {"type": "line", "strokeWidth": 2},
       "encoding": {
         "x": {"field": "x", "type": "quantitative", "scale": {"domain": [0, 400], "nice": false}, "axis": {"title": "Wind Direction, [deg]", "values": [0,50,100,150,200,250,300,350,400], "labelOverlap": false}},
         "y": {"field": "p", "type": "quantitative", "scale": {"domain": [0, 0.8], "nice": false}, "axis": {"title": "Probability", "values": [0,0.2,0.4,0.6,0.8], "format": "~g", "labelOverlap": false, "tickCount": 5}},
         "color": {"datum": "PDF: Airport Wind-Dir", "type": "nominal", "scale": {"domain": ["PDF: Airport Wind-Dir", "PDF: Casement Wind-Dir"], "range": ["#0000ff", "#008000"]}, "legend": {"orient": "top-left", "symbolSize": 178}}}},
      {"data": {"name": "pdfDM"}, "mark": {"type": "line", "strokeWidth": 2},
       "encoding": {
         "x": {"field": "x", "type": "quantitative", "axis": {"orient": "top", "labels": false, "title": null, "values": [0,50,100,150,200,250,300,350,400]}},
         "y": {"field": "p", "type": "quantitative", "axis": {"orient": "right", "labels": false, "title": null, "values": [0,0.2,0.4,0.6,0.8]}},
         "color": {"datum": "PDF: Casement Wind-Dir", "type": "nominal"}}}
    ]
  }
],
"spacing": 73,
"bounds": "flush",
"center": true
}
